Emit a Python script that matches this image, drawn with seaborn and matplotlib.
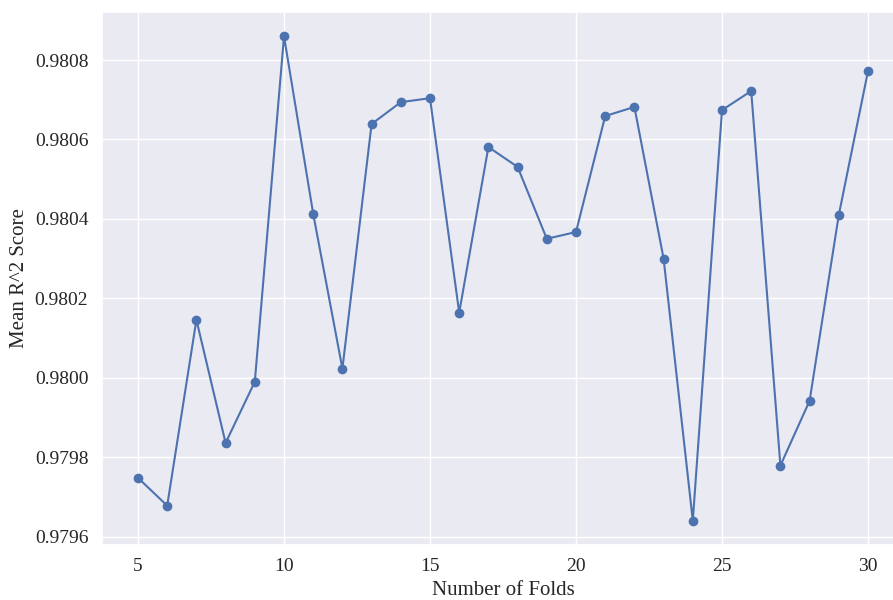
import matplotlib
matplotlib.use("Agg")
import matplotlib.pyplot as plt
import seaborn as sns
import pandas as pd

folds = list(range(5, 31))
mean_r2 = [0.979748, 0.979678, 0.980146, 0.979836, 0.979990, 0.980860,
           0.980413, 0.980023, 0.980639, 0.980694, 0.980704, 0.980164,
           0.980581, 0.980531, 0.980350, 0.980367, 0.980659, 0.980682,
           0.980300, 0.979640, 0.980674, 0.980722, 0.979779, 0.979942,
           0.980410, 0.980772]

df = pd.DataFrame({"folds": folds, "score": mean_r2})

sns.set_theme(style="darkgrid")
plt.rcParams["font.family"] = ["Liberation Serif", "DejaVu Serif"]

fig = plt.figure(figsize=(8.93, 6.0), dpi=100)
# axes run slightly past the right edge, as in the cropped original
ax = fig.add_axes([101.5 / 893, 55 / 600, 803 / 893, 533 / 600])
sns.lineplot(data=df, x="folds", y="score", marker="o", markeredgewidth=0,
             markersize=7, linewidth=1.5, ax=ax)
ax.set_xlabel("Number of Folds", fontsize=15)
ax.set_ylabel("Mean R^2 Score", fontsize=15)
ax.tick_params(labelsize=14)
ax.set_yticks([0.9796, 0.9798, 0.9800, 0.9802, 0.9804, 0.9806, 0.9808])
ax.set_yticklabels([f"{v:.4f}" for v in ax.get_yticks()])
ax.set_xticks([5, 10, 15, 20, 25, 30])
plt.savefig("out.png")
